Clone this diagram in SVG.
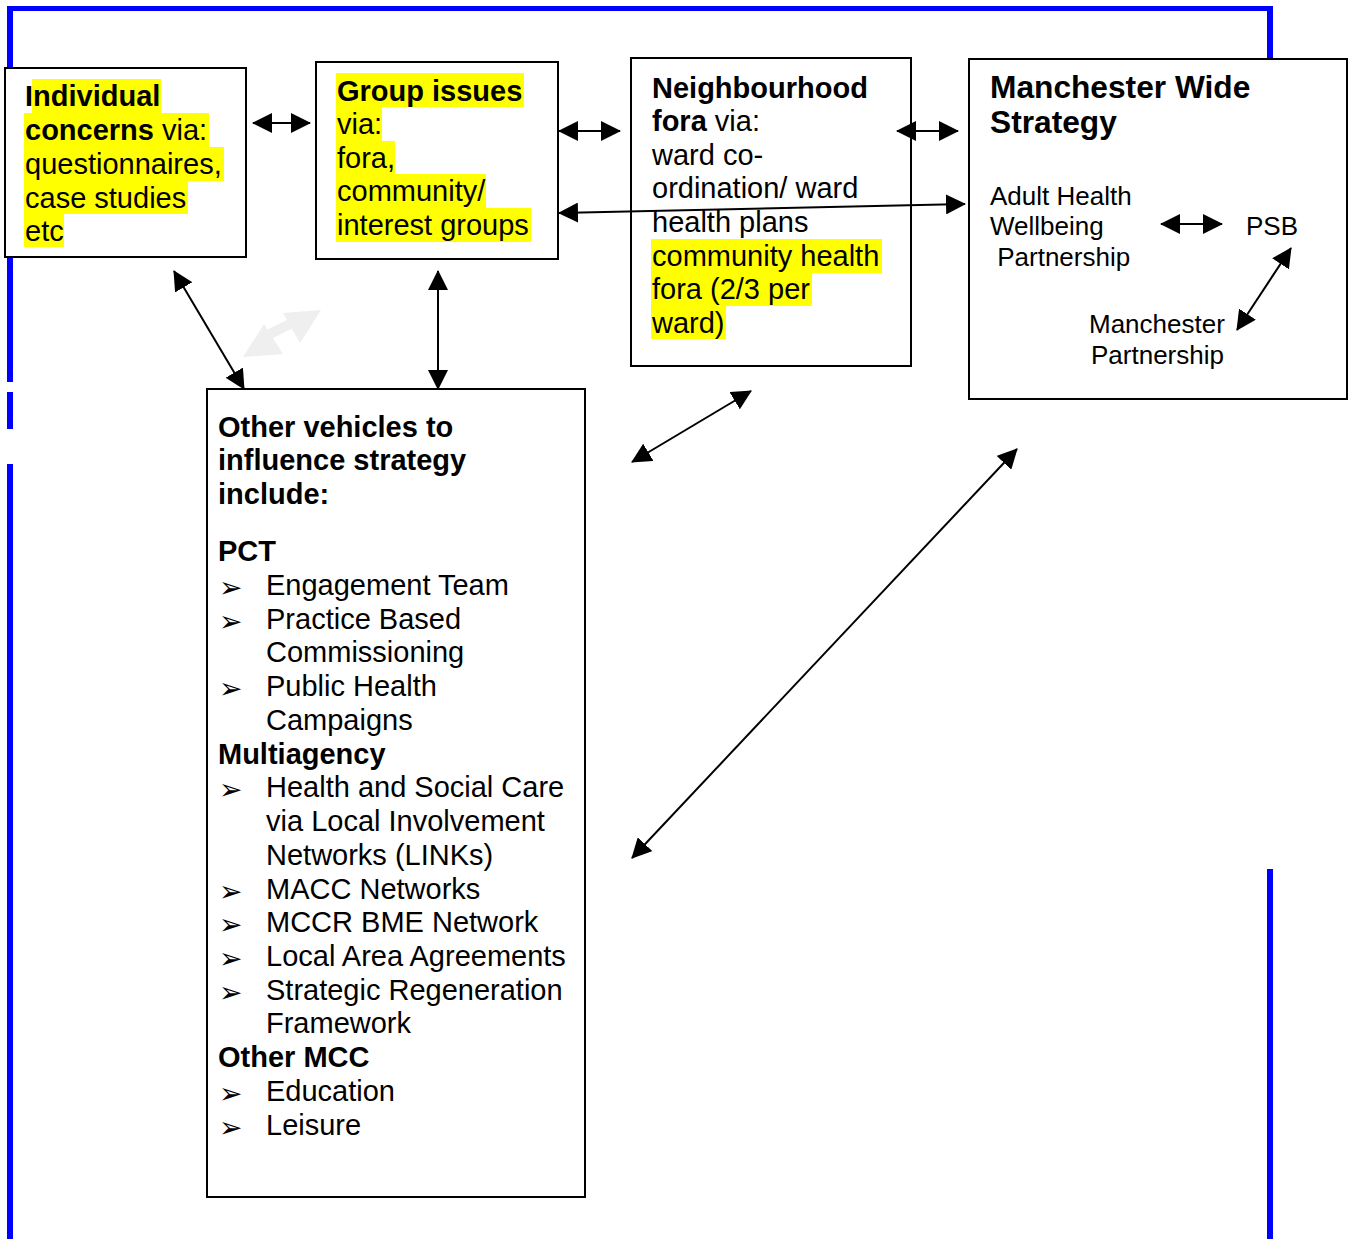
<svg xmlns="http://www.w3.org/2000/svg" width="1352" height="1239" viewBox="0 0 1352 1239">
<style>
text{font-family:"Liberation Sans",Arial,sans-serif;font-size:29px;fill:#000}
.b{font-weight:bold}
.m{font-size:26px}
.h{font-size:31.7px;font-weight:bold}
.bul{font-family:"DejaVu Sans",sans-serif;font-size:28px}
.box{fill:#fff;stroke:#000;stroke-width:2}
.hl{fill:#ffff00}
.blue{stroke:#0000ff;fill:none}
.con{stroke:#000;stroke-width:2;fill:none;marker-start:url(#ah);marker-end:url(#ah)}
</style>
<defs>
<marker id="ah" viewBox="0 0 20 20" refX="19" refY="10" markerWidth="20" markerHeight="20" markerUnits="userSpaceOnUse" orient="auto-start-reverse">
<path d="M0,0 L20,10 L0,20 z" fill="#000"/>
</marker>
</defs>
<rect width="1352" height="1239" fill="#fff"/>
<g id="border">
<line class="blue" x1="7" y1="8.5" x2="1273" y2="8.5" stroke-width="5"/>
<line class="blue" x1="10" y1="6" x2="10" y2="382" stroke-width="6"/>
<line class="blue" x1="10" y1="392" x2="10" y2="429" stroke-width="6"/>
<line class="blue" x1="10" y1="464" x2="10" y2="1239" stroke-width="6"/>
<line class="blue" x1="1270" y1="6" x2="1270" y2="60" stroke-width="6"/>
<line class="blue" x1="1270" y1="869" x2="1270" y2="1239" stroke-width="6"/>
</g>
<g id="individual">
<rect class="box" x="5" y="68" width="241" height="189"/>
<rect class="hl" x="32" y="79" width="129" height="34"/>
<rect class="hl" x="24" y="113" width="185" height="34"/>
<rect class="hl" x="24" y="147" width="200" height="34"/>
<rect class="hl" x="24" y="181" width="164" height="33"/>
<rect class="hl" x="24" y="214" width="40" height="33"/>
<text x="25" y="106" class="b">Individual</text>
<text x="25" y="140"><tspan class="b">concerns</tspan> via:</text>
<text x="25" y="174">questionnaires,</text>
<text x="25" y="208">case studies</text>
<text x="25" y="241">etc</text>
</g>
<g id="group">
<rect class="box" x="316" y="62" width="242" height="197"/>
<rect class="hl" x="336" y="73" width="188" height="34"/>
<rect class="hl" x="336" y="107" width="46" height="34"/>
<rect class="hl" x="336" y="141" width="59" height="33"/>
<rect class="hl" x="336" y="174" width="150" height="34"/>
<rect class="hl" x="336" y="208" width="195" height="34"/>
<text x="337" y="101" class="b">Group issues</text>
<text x="337" y="134">via:</text>
<text x="337" y="168">fora,</text>
<text x="337" y="201">community/</text>
<text x="337" y="235">interest groups</text>
</g>
<g id="neighbourhood">
<rect class="box" x="631" y="58" width="280" height="308"/>
<rect class="hl" x="651" y="239" width="231" height="34"/>
<rect class="hl" x="651" y="273" width="161" height="33"/>
<rect class="hl" x="651" y="306" width="75" height="33"/>
<text x="652" y="98" class="b">Neighbourhood</text>
<text x="652" y="131"><tspan class="b">fora</tspan> via:</text>
<text x="652" y="165">ward co-</text>
<text x="652" y="198">ordination/ ward</text>
<text x="652" y="232">health plans</text>
<text x="652" y="266">community health</text>
<text x="652" y="299">fora (2/3 per</text>
<text x="652" y="333">ward)</text>
</g>
<g id="manchester">
<rect class="box" x="969" y="59" width="378" height="340"/>
<text x="990" y="98" class="h">Manchester Wide</text>
<text x="990" y="133" class="h">Strategy</text>
<text x="990" y="205" class="m">Adult Health</text>
<text x="990" y="235" class="m">Wellbeing</text>
<text x="990" y="266" class="m" xml:space="preserve"> Partnership</text>
<text x="1246" y="235" class="m">PSB</text>
<text x="1089" y="333" class="m">Manchester</text>
<text x="1091" y="364" class="m">Partnership</text>
</g>
<g id="other">
<rect class="box" x="207" y="389" width="378" height="808"/>
<text x="218" y="437" class="b">Other vehicles to</text>
<text x="218" y="470" class="b">influence strategy</text>
<text x="218" y="504" class="b">include:</text>
<text x="218" y="561" class="b">PCT</text>
<text x="219" y="597" class="bul">➢</text><text x="266" y="595">Engagement Team</text>
<text x="219" y="631" class="bul">➢</text><text x="266" y="629">Practice Based</text>
<text x="266" y="662">Commissioning</text>
<text x="219" y="698" class="bul">➢</text><text x="266" y="696">Public Health</text>
<text x="266" y="730">Campaigns</text>
<text x="218" y="764" class="b">Multiagency</text>
<text x="219" y="799" class="bul">➢</text><text x="266" y="797">Health and Social Care</text>
<text x="266" y="831">via Local Involvement</text>
<text x="266" y="865">Networks (LINKs)</text>
<text x="219" y="901" class="bul">➢</text><text x="266" y="899">MACC Networks</text>
<text x="219" y="934" class="bul">➢</text><text x="266" y="932">MCCR BME Network</text>
<text x="219" y="968" class="bul">➢</text><text x="266" y="966">Local Area Agreements</text>
<text x="219" y="1002" class="bul">➢</text><text x="266" y="1000">Strategic Regeneration</text>
<text x="266" y="1033">Framework</text>
<text x="218" y="1067" class="b">Other MCC</text>
<text x="219" y="1103" class="bul">➢</text><text x="266" y="1101">Education</text>
<text x="219" y="1137" class="bul">➢</text><text x="266" y="1135">Leisure</text>
</g>
<g id="connectors">
<line class="con" x1="253" y1="123" x2="310" y2="123"/>
<line class="con" x1="559" y1="131" x2="620" y2="131"/>
<line class="con" x1="897" y1="131" x2="958" y2="131"/>
<line class="con" x1="559" y1="213" x2="965" y2="204"/>
<line class="con" x1="174" y1="271" x2="244" y2="389"/>
<line class="con" x1="438" y1="271" x2="438" y2="389"/>
<line class="con" x1="751" y1="391" x2="632" y2="462"/>
<line class="con" x1="1017" y1="449" x2="632" y2="858"/>
<line class="con" x1="1161" y1="224" x2="1222" y2="224"/>
<line class="con" x1="1291" y1="248" x2="1237" y2="330"/>
<g fill="#efefef">
<line x1="262" y1="338" x2="302" y2="318" stroke="#efefef" stroke-width="10"/>
<polygon points="243,357 264,324 283,354"/>
<polygon points="321,310 283,313 300,343"/>
</g>
</g>
</svg>
